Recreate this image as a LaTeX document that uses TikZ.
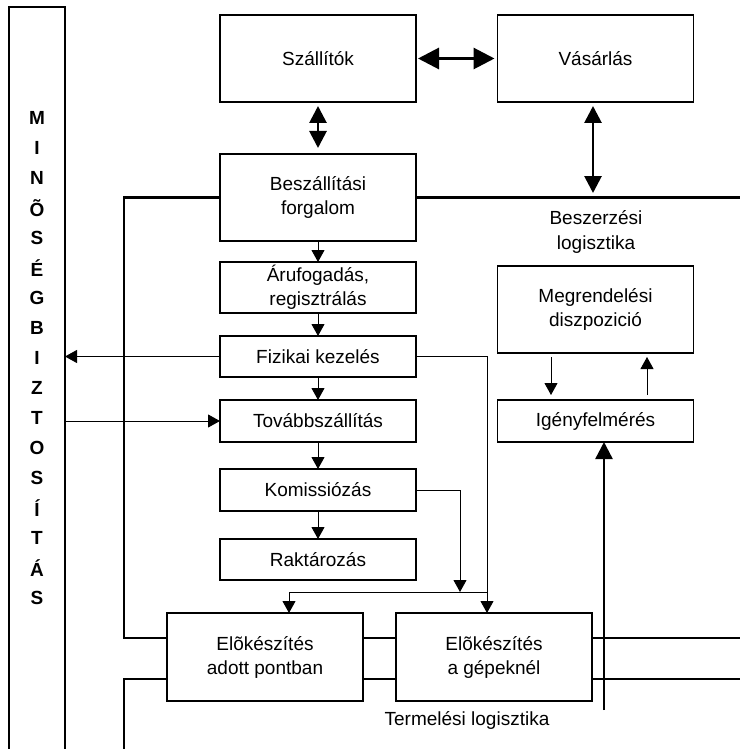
\documentclass[tikz,border=0pt]{standalone}
\usepackage{fontspec}
\setmainfont{Liberation Sans}
\usetikzlibrary{arrows.meta}
\begin{document}
\begin{tikzpicture}[x=1pt,y=-1pt,
  box/.style={draw=black, line width=1.1pt, fill=white, minimum width=196pt,
    inner sep=0pt, outer sep=0pt, align=center, font=\fontsize{19}{24}\selectfont},
  flow/.style={line width=0.9pt, -{Triangle[length=12pt,width=13pt]}},
  plain/.style={line width=0.9pt},
  band/.style={line width=2.4pt},
  bigarrow/.style={line width=2.8pt, {Triangle[length=17pt,width=17pt]}-{Triangle[length=17pt,width=17pt]}},
  widearrow/.style={line width=3pt, {Triangle[length=21pt,width=21pt]}-{Triangle[length=21pt,width=21pt]}},
  lbl/.style={font=\fontsize{19}{25}\selectfont, align=center},
  vletter/.style={font=\fontsize{19}{19}\selectfont\bfseries, inner sep=0pt}
]
\useasboundingbox (0,0) rectangle (740,749);

% quality assurance column (open at the bottom)
\node[draw=black, line width=1.5pt, minimum width=56pt, minimum height=753pt,
  inner sep=0pt, outer sep=0pt] (bar) at (37,383.5) {};
\foreach \ch [count=\i from 0] in {M,I,N,Õ,S,É,G,B,I,Z,T,O,S,Í,T,Á,S}
  \node[vletter] (q\i) at (37,{118+30*\i}) {\ch};

% process boxes
\node[box, minimum height=87pt] (szall) at (318,58.5) {Szállítók};
\node[box, minimum height=87pt] (vas) at (595.5,58.5) {Vásárlás};
\node[box, minimum height=87pt] (besz) at (318,197.5) {Beszállítási\\forgalom};
\node[box, minimum height=51pt] (aru) at (318,287.5) {Árufogadás,\\regisztrálás};
\node[box, minimum height=41pt] (fiz) at (318,356.5) {Fizikai kezelés};
\node[box, minimum height=42pt] (tov) at (318,421) {Továbbszállítás};
\node[box, minimum height=42pt] (kom) at (318,490) {Komissiózás};
\node[box, minimum height=41pt] (rak) at (318,559.5) {Raktározás};
\node[box, minimum height=87pt] (meg) at (595.5,309.5) {Megrendelési\\diszpozició};
\node[box, minimum height=42pt] (igeny) at (595.5,421) {Igényfelmérés};
\node[box, minimum height=88pt] (elo1) at (265,657) {Elõkészítés\\adott pontban};
\node[box, minimum height=88pt] (elo2) at (494,657) {Elõkészítés\\a gépeknél};

% area labels
\node[lbl] (beszlog) at (596,232) {Beszerzési\\logisztika};
\node[lbl] (termlog) at (467,720) {Termelési logisztika};

% helper points
\coordinate (bandL) at (124,197.5);
\coordinate (bandR) at (740,197.5);
\coordinate (upL) at (124,638);
\coordinate (upR) at (740,638);
\coordinate (loL) at (124,679);
\coordinate (loR) at (740,679);
\coordinate (loB) at (124,752);
\coordinate (demand) at (604,710);
\coordinate (vasLow) at (593,193);
\coordinate (fizR) at (487,356.5);
\coordinate (komR) at (460,490);
\coordinate (joinR) at (460,592);
\coordinate (joinL) at (289,592);
\coordinate (dnX) at (551,0);
\coordinate (upX) at (647,0);

% logistics area boundaries
\draw[band] (besz.east) -- (bandR);
\draw[band] (besz.west) -- (bandL) -- (upL) -- (elo1.west |- upL);
\draw[band] (elo1.east |- upL) -- (elo2.west |- upL);
\draw[band] (elo2.east |- upL) -- (upR);
\draw[band] (loB) -- (loL) -- (elo1.west |- loL);
\draw[band] (elo1.east |- loL) -- (elo2.west |- loL);
\draw[band] (elo2.east |- loL) -- (loR);
\draw[band, -{Triangle[length=17pt,width=17pt]}] (demand) -- (demand |- igeny.south);

% two-way links
\draw[widearrow, shorten <=2pt, shorten >=3pt] (szall.east) -- (vas.west);
\draw[bigarrow, shorten <=4pt, shorten >=6pt] (szall.south) -- (besz.north);
\draw[bigarrow, shorten <=4pt] (vasLow |- vas.south) -- (vasLow);

% material flow
\draw[flow] (besz.south) -- (aru.north);
\draw[flow] (aru.south) -- (fiz.north);
\draw[flow] (fiz.south) -- (tov.north);
\draw[flow] (tov.south) -- (kom.north);
\draw[flow] (kom.south) -- (rak.north);
\draw[flow] (fiz.west) -- (fiz.west -| bar.east);
\draw[flow] (tov.west -| bar.east) -- (tov.west);
\draw[flow] (fiz.east) -- (fizR) -- (fizR |- elo2.north);
\draw[flow] (kom.east) -- (komR) -- (joinR);
\draw[plain] (joinL) -- (fizR |- joinL);
\draw[flow] (joinL) -- (joinL |- elo1.north);

% ordering loop
\draw[flow, shorten <=4pt, shorten >=5pt] (dnX |- meg.south) -- (dnX |- igeny.north);
\draw[flow, shorten <=5pt, shorten >=4pt] (upX |- igeny.north) -- (upX |- meg.south);
\end{tikzpicture}
\end{document}
